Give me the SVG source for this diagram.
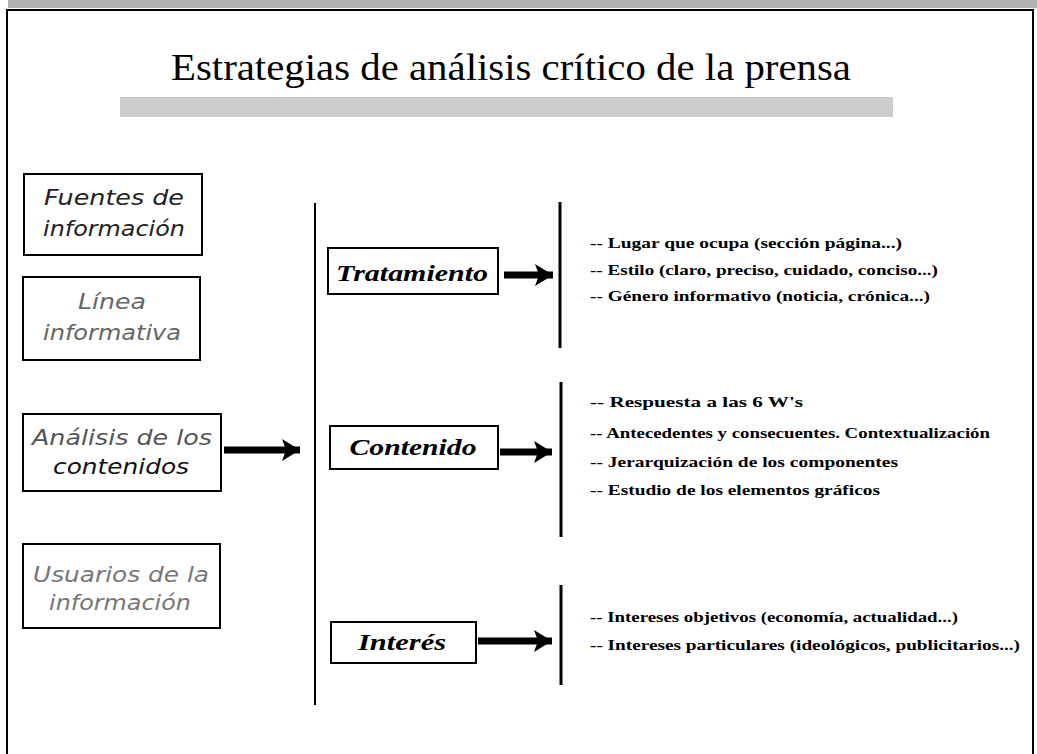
<svg xmlns="http://www.w3.org/2000/svg" width="1037" height="754" viewBox="0 0 1037 754">
<style>
.frame{fill:none;stroke:#000;stroke-width:2}
.box{fill:#fff;stroke:#000;stroke-width:2}
.ltxt{font-family:"DejaVu Sans","Liberation Sans",sans-serif;font-style:italic;font-size:21px;text-anchor:middle}
.ctxt{font-family:"Liberation Serif",serif;font-style:italic;font-weight:bold;font-size:23px;text-anchor:middle;fill:#000}
.item{font-family:"Liberation Serif",serif;font-weight:bold;font-size:15.5px;fill:#000}
.shaft{stroke:#000;stroke-width:7;fill:none}
.bar{stroke:#000;fill:none}
</style>
<defs>
<marker id="ah" markerUnits="userSpaceOnUse" markerWidth="24" markerHeight="24" refX="18" refY="11" orient="auto" viewBox="0 0 24 22">
<path d="M0,0 L18,11 L0,22 L4,11 Z" fill="#000"/>
</marker>
</defs>
<rect x="0" y="0" width="1037" height="754" fill="#fff"/>
<rect x="8" y="0" width="1029" height="8" fill="#b0b0b0"/>
<path class="frame" d="M7,754 L7,10 L1033,10 L1033,754"/>
<g id="title">
<text x="511" y="80" font-family="Liberation Serif,serif" font-size="37" textLength="680" lengthAdjust="spacingAndGlyphs" text-anchor="middle" fill="#000">Estrategias de análisis crítico de la prensa</text>
<rect x="120" y="97" width="773" height="20" fill="#cccccc"/>
</g>
<g id="fuentes">
<rect class="box" x="24" y="174" width="178" height="81"/>
<text class="ltxt" x="114" y="205" fill="#222" textLength="140" lengthAdjust="spacingAndGlyphs">Fuentes de</text>
<text class="ltxt" x="114" y="236" fill="#222" textLength="142" lengthAdjust="spacingAndGlyphs">información</text>
</g>
<g id="linea">
<rect class="box" x="23" y="277" width="177" height="83"/>
<text class="ltxt" x="112" y="309" fill="#666" textLength="68" lengthAdjust="spacingAndGlyphs">Línea</text>
<text class="ltxt" x="112" y="340" fill="#666" textLength="138" lengthAdjust="spacingAndGlyphs">informativa</text>
</g>
<g id="analisis">
<rect class="box" x="23" y="414" width="198" height="77" stroke-width="2.5"/>
<text class="ltxt" x="122" y="445" fill="#555" textLength="180" lengthAdjust="spacingAndGlyphs">Análisis de los</text>
<text class="ltxt" x="121" y="474" fill="#111" textLength="136" lengthAdjust="spacingAndGlyphs">contenidos</text>
</g>
<g id="usuarios">
<rect class="box" x="23" y="544" width="197" height="84"/>
<text class="ltxt" x="121" y="582" fill="#777" textLength="176" lengthAdjust="spacingAndGlyphs">Usuarios de la</text>
<text class="ltxt" x="120" y="610" fill="#777" textLength="142" lengthAdjust="spacingAndGlyphs">información</text>
</g>
<g id="tratamiento">
<rect class="box" x="328" y="248" width="170" height="46"/>
<text class="ctxt" x="412" y="281" textLength="152" lengthAdjust="spacingAndGlyphs">Tratamiento</text>
</g>
<g id="contenido">
<rect class="box" x="330" y="426" width="168" height="43"/>
<text class="ctxt" x="413" y="455" textLength="127" lengthAdjust="spacingAndGlyphs">Contenido</text>
</g>
<g id="interes">
<rect class="box" x="331" y="622" width="145" height="41"/>
<text class="ctxt" x="402" y="650" textLength="88" lengthAdjust="spacingAndGlyphs">Interés</text>
</g>
<g id="connectors">
<line class="bar" x1="315" y1="203" x2="315" y2="705" stroke-width="2"/>
<line class="bar" x1="560" y1="202" x2="560" y2="348" stroke-width="3"/>
<line class="bar" x1="561" y1="382" x2="561" y2="537" stroke-width="3"/>
<line class="bar" x1="561" y1="585" x2="561" y2="685" stroke-width="3"/>
<line class="shaft" x1="224" y1="450" x2="300" y2="450" marker-end="url(#ah)"/>
<line class="shaft" x1="504" y1="275" x2="553" y2="275" marker-end="url(#ah)"/>
<line class="shaft" x1="500" y1="452" x2="552" y2="452" marker-end="url(#ah)"/>
<line class="shaft" x1="478" y1="641" x2="552" y2="641" marker-end="url(#ah)"/>
</g>
<g id="items-tratamiento">
<text class="item" x="590" y="248" textLength="312" lengthAdjust="spacingAndGlyphs">-- Lugar que ocupa (sección página...)</text>
<text class="item" x="590" y="275" textLength="348" lengthAdjust="spacingAndGlyphs">-- Estilo (claro, preciso, cuidado, conciso...)</text>
<text class="item" x="590" y="301" textLength="340" lengthAdjust="spacingAndGlyphs">-- Género informativo (noticia, crónica...)</text>
</g>
<g id="items-contenido">
<text class="item" x="590" y="407" textLength="213" lengthAdjust="spacingAndGlyphs">-- Respuesta a las 6 W's</text>
<text class="item" x="590" y="438" textLength="400" lengthAdjust="spacingAndGlyphs">-- Antecedentes y consecuentes. Contextualización</text>
<text class="item" x="590" y="467" textLength="308" lengthAdjust="spacingAndGlyphs">-- Jerarquización de los componentes</text>
<text class="item" x="590" y="495" textLength="290" lengthAdjust="spacingAndGlyphs">-- Estudio de los elementos gráficos</text>
</g>
<g id="items-interes">
<text class="item" x="590" y="622" textLength="368" lengthAdjust="spacingAndGlyphs">-- Intereses objetivos (economía, actualidad...)</text>
<text class="item" x="590" y="650" textLength="430" lengthAdjust="spacingAndGlyphs">-- Intereses particulares (ideológicos, publicitarios...)</text>
</g>
</svg>
